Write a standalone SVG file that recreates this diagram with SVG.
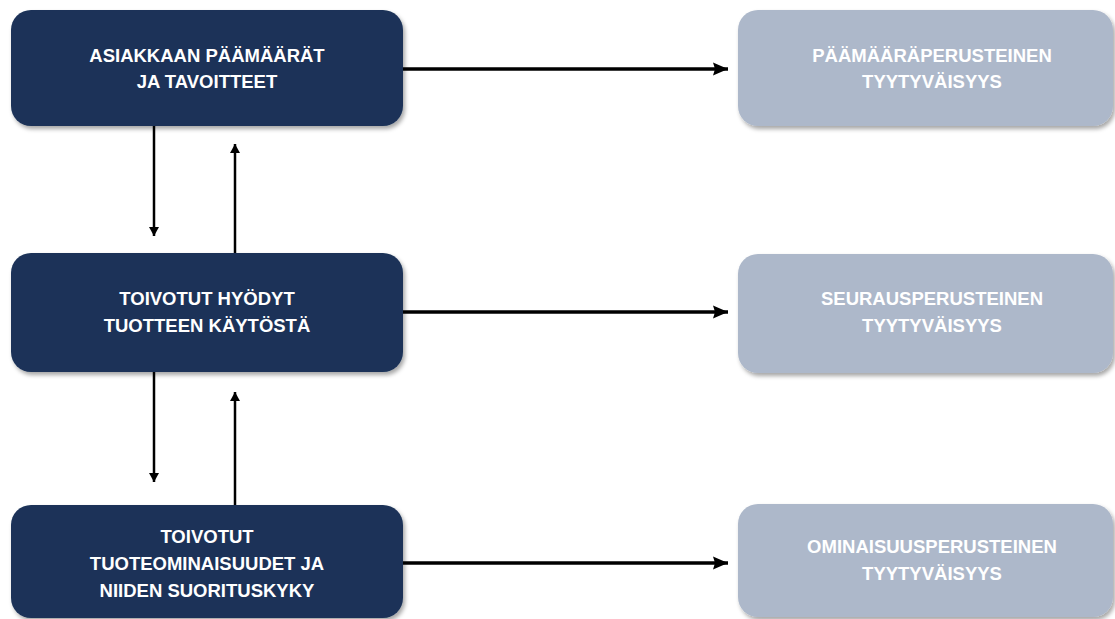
<svg xmlns="http://www.w3.org/2000/svg" width="1115" height="619" viewBox="0 0 1115 619">
<defs>
<filter id="sh" x="-5%" y="-10%" width="115%" height="130%">
<feDropShadow dx="2" dy="3" stdDeviation="2" flood-color="#000" flood-opacity="0.35"/>
</filter>
<marker id="ah" markerUnits="userSpaceOnUse" markerWidth="16" markerHeight="16" viewBox="0 0 16 16" refX="15" refY="8" orient="auto">
<path d="M0,1.5 L15,8 L0,14.5 L2,8 Z" fill="#000"/>
</marker>
<marker id="av" markerUnits="userSpaceOnUse" markerWidth="10" markerHeight="12" viewBox="0 0 10 12" refX="9" refY="5.5" orient="auto">
<path d="M0,0.5 L9,5.5 L0,10.5 Z" fill="#000"/>
</marker>
</defs>
<style>
.dk{fill:#1b3358;filter:url(#sh)}
.lt{fill:#adb8ca;filter:url(#sh)}
.t{font-family:"Liberation Sans",Arial,sans-serif;font-weight:bold;font-size:18.5px;fill:#fff;text-anchor:middle}
.h{stroke:#000;stroke-width:3.5;fill:none;marker-end:url(#ah)}
.v{stroke:#000;stroke-width:2.5;fill:none;marker-end:url(#av)}
</style>
<g id="connectors">
<line class="h" x1="403" y1="69" x2="728" y2="69"/>
<line class="h" x1="403" y1="312" x2="728" y2="312"/>
<line class="h" x1="403" y1="563" x2="728" y2="563"/>
<line class="v" x1="154" y1="126" x2="154" y2="236"/>
<line class="v" x1="235" y1="253" x2="235" y2="144"/>
<line class="v" x1="154" y1="372" x2="154" y2="482"/>
<line class="v" x1="235" y1="505" x2="235" y2="392"/>
</g>
<g id="n1">
<rect class="dk" x="11" y="10" width="392" height="116" rx="20"/>
<text class="t" x="207" y="62">ASIAKKAAN PÄÄMÄÄRÄT</text>
<text class="t" x="207" y="88">JA TAVOITTEET</text>
</g>
<g id="n2">
<rect class="dk" x="11" y="253" width="392" height="119" rx="20"/>
<text class="t" x="207" y="305">TOIVOTUT HYÖDYT</text>
<text class="t" x="207" y="332">TUOTTEEN KÄYTÖSTÄ</text>
</g>
<g id="n3">
<rect class="dk" x="11" y="505" width="392" height="113" rx="20"/>
<text class="t" x="207" y="543">TOIVOTUT</text>
<text class="t" x="207" y="570">TUOTEOMINAISUUDET JA</text>
<text class="t" x="207" y="597">NIIDEN SUORITUSKYKY</text>
</g>
<g id="r1">
<rect class="lt" x="738" y="10" width="375" height="116" rx="20"/>
<text class="t" x="932" y="62">PÄÄMÄÄRÄPERUSTEINEN</text>
<text class="t" x="932" y="88">TYYTYVÄISYYS</text>
</g>
<g id="r2">
<rect class="lt" x="738" y="254" width="375" height="119" rx="20"/>
<text class="t" x="932" y="305">SEURAUSPERUSTEINEN</text>
<text class="t" x="932" y="332">TYYTYVÄISYYS</text>
</g>
<g id="r3">
<rect class="lt" x="738" y="504" width="375" height="113" rx="20"/>
<text class="t" x="932" y="553">OMINAISUUSPERUSTEINEN</text>
<text class="t" x="932" y="580">TYYTYVÄISYYS</text>
</g>
</svg>
